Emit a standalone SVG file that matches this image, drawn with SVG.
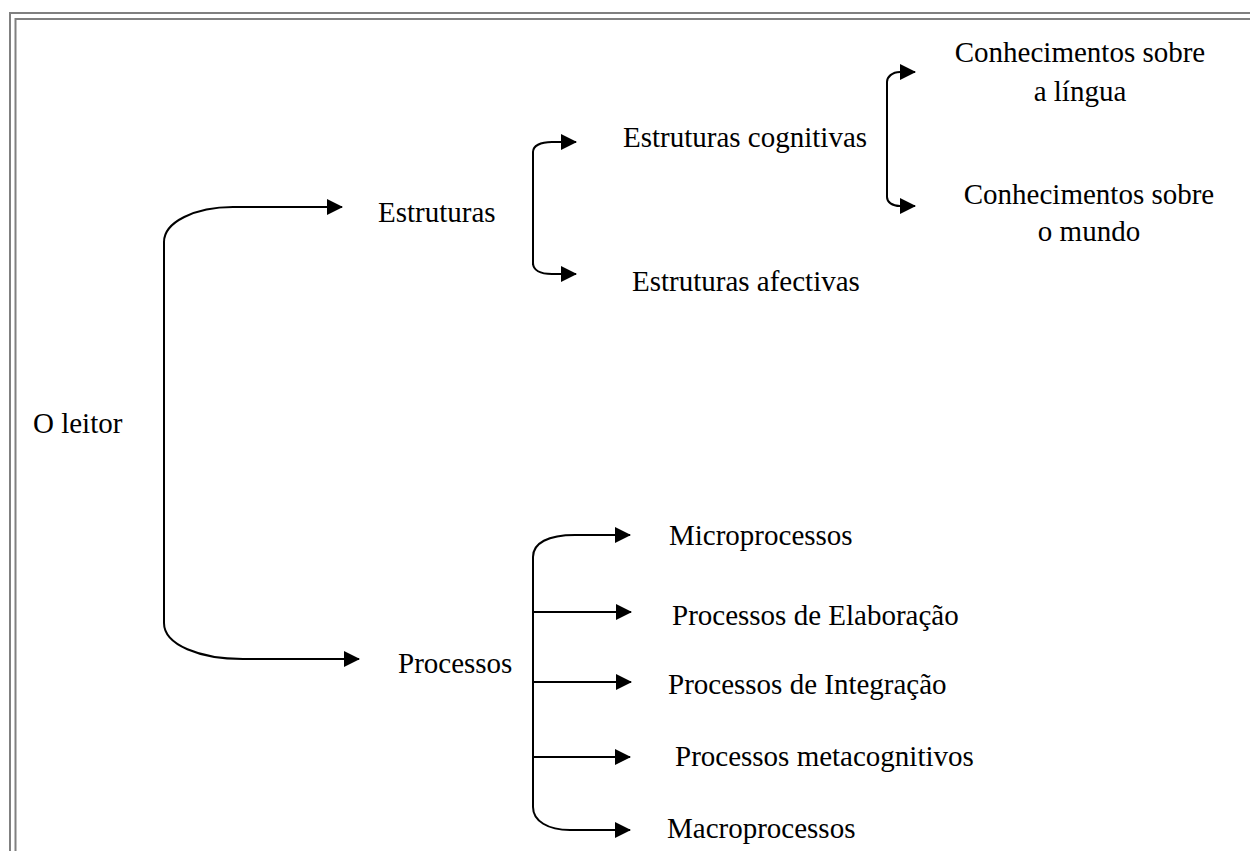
<svg xmlns="http://www.w3.org/2000/svg" width="1250" height="851" viewBox="0 0 1250 851">
<style>
.t{font-family:"Liberation Serif","Times New Roman",serif;font-size:29px;fill:#000}
.c{fill:none;stroke:#000;stroke-width:2}
.b{fill:none;stroke:#808080;stroke-width:2}
</style>
<defs>
<marker id="ah" markerUnits="userSpaceOnUse" markerWidth="16" markerHeight="16" refX="15" refY="8" orient="auto" viewBox="0 0 16 16">
<path d="M0,0 L16,8 L0,16 Z" fill="#000"/>
</marker>
</defs>
<rect width="1250" height="851" fill="#fff"/>
<g id="frame">
<rect class="b" x="10" y="13" width="1300" height="900"/>
<rect class="b" x="15.5" y="19" width="1300" height="900"/>
</g>
<g id="connectors">
<path class="c" marker-end="url(#ah)" d="M164,622 L164,242 C164,222 195,207 233,207 L342,207"/>
<path class="c" marker-end="url(#ah)" d="M164,600 L164,623 C164,645 200,659 243,659 L359,659"/>
<path class="c" marker-end="url(#ah)" d="M533,265 L533,152 C533,146 540,142 552,142 L576,142"/>
<path class="c" marker-end="url(#ah)" d="M533,260 L533,263 C533,270 540,274 552,274 L576,274"/>
<path class="c" marker-end="url(#ah)" d="M887,197 L887,82 C887,77 892,72 900,72 L915,72"/>
<path class="c" marker-end="url(#ah)" d="M887,190 L887,197 C887,202 892,206 900,206 L915,206"/>
<path class="c" marker-end="url(#ah)" d="M533,807 L533,557 C533,543 548,535 575,535 L630,535"/>
<path class="c" marker-end="url(#ah)" d="M533,612 L631,612"/>
<path class="c" marker-end="url(#ah)" d="M533,682 L631,682"/>
<path class="c" marker-end="url(#ah)" d="M532,757 L630,757"/>
<path class="c" marker-end="url(#ah)" d="M533,800 L533,807 C533,821 548,830 570,830 L630,830"/>
</g>
<g id="n-leitor"><text class="t" x="33" y="433">O leitor</text></g>
<g id="n-estruturas"><text class="t" x="378" y="222">Estruturas</text></g>
<g id="n-processos"><text class="t" x="398" y="673">Processos</text></g>
<g id="n-cognitivas"><text class="t" x="623" y="147">Estruturas cognitivas</text></g>
<g id="n-afectivas"><text class="t" x="632" y="291">Estruturas afectivas</text></g>
<g id="n-lingua"><text class="t" x="1080" y="62" text-anchor="middle">Conhecimentos sobre<tspan x="1080" y="101">a língua</tspan></text></g>
<g id="n-mundo"><text class="t" x="1089" y="204" text-anchor="middle">Conhecimentos sobre<tspan x="1089" y="241">o mundo</tspan></text></g>
<g id="n-micro"><text class="t" x="669" y="545">Microprocessos</text></g>
<g id="n-elab"><text class="t" x="672" y="625">Processos de Elaboração</text></g>
<g id="n-integ"><text class="t" x="668" y="694">Processos de Integração</text></g>
<g id="n-meta"><text class="t" x="675" y="766">Processos metacognitivos</text></g>
<g id="n-macro"><text class="t" x="667" y="838">Macroprocessos</text></g>
</svg>
